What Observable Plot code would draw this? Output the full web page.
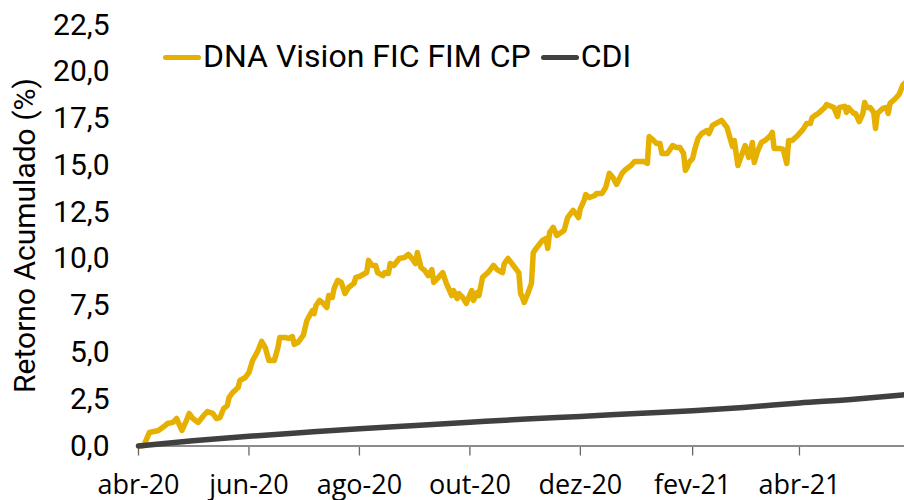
<!DOCTYPE html>
<html>
<head>
<meta charset="utf-8">
<script src="https://cdn.jsdelivr.net/npm/d3@7"></script>
<script src="https://cdn.jsdelivr.net/npm/@observablehq/plot@0.6"></script>
<style>
  html, body { margin: 0; padding: 0; background: #fff; }
  #wrap { position: relative; width: 904px; height: 500px; overflow: hidden; }
  #legend { position: absolute; left: 163px; top: 40px; display: flex; align-items: center;
    font-family: Roboto, sans-serif; font-size: 32px; line-height: 32px; color: #000; white-space: nowrap; }
  .sw { display: inline-block; width: 38px; height: 5px; border-radius: 3px; margin-right: 2px; position: relative; top: 1px; }
  .item { display: flex; align-items: center; margin-right: 10px; }
</style>
</head>
<body>
<div id="wrap"><div id="legend"></div></div>
<script>
// ---- data ----
const dataInicio = "2020-04-01";            // dia 0
const dataFim = 423;                          // último dia exibido (dias desde o início)

const series = ["DNA Vision FIC FIM CP", "CDI"];
const seriesColors = ["#e6b000", "#404040"];

// DNA Vision FIC FIM CP — retorno acumulado (%) por dia desde o início
const dnaDias = [0,3,6,11,14,16,19,21,24,26,28,30,33,36,38,41,43,45,47,49,50,52,55,56,59,61,63,66,68,70,72,75,77,78,81,83,85,86,88,91,93,96,97,98,100,102,104,105,107,108,110,112,114,116,119,120,122,125,126,127,129,131,132,135,136,138,139,141,144,147,149,151,153,154,156,158,160,162,163,165,168,170,173,174,176,177,179,181,184,185,187,188,190,193,196,198,201,202,204,207,210,211,212,213,215,217,218,220,223,225,226,227,229,231,235,237,240,241,243,244,246,247,249,252,253,256,258,260,262,264,267,269,272,274,278,279,281,282,284,286,288,289,292,295,297,299,301,302,303,304,306,307,309,311,314,315,317,319,322,325,328,329,331,333,335,337,339,340,342,344,346,349,350,351,354,356,358,359,361,364,367,369,371,372,376,379,380,384,386,387,390,391,392,395,396,398,400,401,402,404,406,407,408,411,413,414,415,418,420,422,423];
const dnaRetorno = [0.00,0.03,0.72,0.83,1.04,1.20,1.26,1.47,0.83,1.26,1.74,1.47,1.26,1.63,1.84,1.74,1.47,1.52,2.00,2.16,2.59,2.86,3.13,3.50,3.66,3.93,4.57,5.10,5.59,5.26,4.57,4.57,5.26,5.80,5.80,5.75,5.85,5.43,5.53,5.91,6.71,7.24,7.08,7.51,7.78,7.62,7.40,8.04,7.94,8.42,8.85,8.74,8.15,8.47,8.69,9.01,9.06,9.22,9.27,9.92,9.65,9.65,9.27,9.11,9.27,9.22,9.75,9.65,10.02,10.08,10.24,10.02,9.75,10.34,9.54,9.38,9.11,9.43,8.74,8.95,9.27,8.69,8.04,8.31,7.88,8.15,7.94,7.62,8.31,7.78,8.20,8.04,9.01,9.27,9.65,9.43,9.27,9.75,10.02,9.65,9.27,8.15,7.94,7.67,8.15,8.69,10.34,10.61,10.98,11.09,10.56,11.41,11.68,11.25,11.52,12.21,12.59,12.48,12.21,12.69,13.12,13.44,13.28,13.39,13.50,13.50,13.82,14.57,14.35,13.98,14.57,14.78,14.99,15.21,15.21,15.21,15.10,16.54,16.38,16.17,16.17,15.63,15.63,16.06,15.95,15.95,15.63,14.73,14.89,15.15,15.37,15.79,16.44,16.70,16.86,16.70,17.13,17.24,17.40,17.02,16.01,16.33,14.99,15.53,16.06,15.42,16.22,15.15,15.79,16.22,16.33,16.60,16.76,15.90,15.90,15.85,15.10,16.33,16.33,16.60,16.92,17.24,17.24,17.56,17.83,18.09,18.25,18.09,17.61,18.09,18.15,17.83,18.09,17.77,17.77,17.34,17.77,18.36,18.09,18.09,17.83,16.97,17.77,18.04,18.09,17.77,18.31,18.57,18.79,19.27,19.38];

// CDI — retorno acumulado (%)
const cdiDias = [0,30,61,91,122,153,183,214,244,275,306,334,365,395,423];
const cdiRetorno = [0.00,0.28,0.52,0.72,0.92,1.10,1.27,1.44,1.58,1.74,1.89,2.06,2.30,2.50,2.74];

// eixos
const xTickDates = ["2020-04-01","2020-06-01","2020-08-01","2020-10-01","2020-12-01","2021-02-01","2021-04-01"];
const xTickLabels = ["abr-20","jun-20","ago-20","out-20","dez-20","fev-21","abr-21"];
const yTicks = [0, 2.5, 5, 7.5, 10, 12.5, 15, 17.5, 20, 22.5];
const yTitle = "Retorno Acumulado (%)";

// ---- build ----
const base = new Date(dataInicio + "T00:00:00Z");
const toDate = n => d3.utcDay.offset(base, n);
const dna = dnaDias.map((d, i) => ({date: toDate(d), v: dnaRetorno[i]}));
const cdi = cdiDias.map((d, i) => ({date: toDate(d), v: cdiRetorno[i]}));
const tickDates = xTickDates.map(s => new Date(s + "T00:00:00Z"));
const labelMap = new Map(tickDates.map((d, i) => [+d, xTickLabels[i]]));

const chart = Plot.plot({
  width: 904,
  height: 500,
  marginLeft: 138,
  marginRight: 0,
  marginTop: 24.5,
  marginBottom: 54.5,
  style: {fontFamily: "Roboto, sans-serif", fontSize: "30px", color: "#000", background: "transparent", overflow: "visible"},
  x: {type: "utc", domain: [base, toDate(dataFim)]},
  y: {domain: [0, 22.5]},
  marks: [
    Plot.axisY({ticks: yTicks, tickFormat: d => d.toFixed(1).replace(".", ","), tickSize: 0, tickPadding: 29,
      fontSize: 30, fontFamily: "Roboto", fill: "#000", label: null}),
    Plot.axisX({ticks: tickDates, tickFormat: d => labelMap.get(+d), tickSize: 10, tickPadding: 19,
      fontSize: 27, fontFamily: "Open Sans", fill: "#000", stroke: "#666", strokeWidth: 1.3, label: null}),
    Plot.ruleY([0], {stroke: "#8c8c8c", strokeWidth: 2}),
    Plot.line(dna, {x: "date", y: "v", stroke: seriesColors[0], strokeWidth: 5.5, strokeLinejoin: "round", strokeLinecap: "round"}),
    Plot.line(cdi, {x: "date", y: "v", stroke: seriesColors[1], strokeWidth: 5.5, strokeLinejoin: "round", strokeLinecap: "round", curve: "monotone-x"}),
    Plot.text([yTitle], {text: d => d, frameAnchor: "left", dx: -113, rotate: -90, fontSize: 30, fontFamily: "Roboto", fill: "#000", textAnchor: "middle", lineAnchor: "middle"})
  ]
});
document.getElementById("wrap").prepend(chart);

const legend = document.getElementById("legend");
series.forEach((s, i) => {
  const item = document.createElement("span");
  item.className = "item";
  const sw = document.createElement("span");
  sw.className = "sw";
  sw.style.background = seriesColors[i];
  item.appendChild(sw);
  item.appendChild(document.createTextNode(s));
  legend.appendChild(item);
});
</script>
</body>
</html>
